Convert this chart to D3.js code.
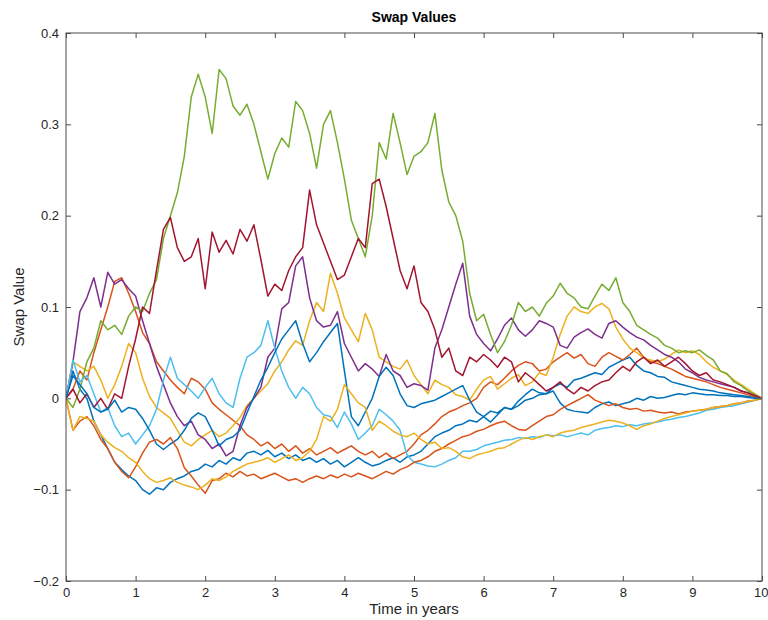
<!DOCTYPE html>
<html>
<head>
<meta charset="utf-8">
<script src="https://cdn.jsdelivr.net/npm/d3@7"></script>
<style>
  html, body { margin: 0; padding: 0; background: #fff; }
  svg { display: block; font-family: "Liberation Sans", Arial, Helvetica, sans-serif; }
</style>
</head>
<body>
<svg id="chart" width="768" height="620"></svg>
<script>
// Simulated swap value paths over a 10-year horizon, sampled every 0.1 year.
const years = d3.range(0, 101).map(i => i / 10);

const xTicks = [0, 1, 2, 3, 4, 5, 6, 7, 8, 9, 10];
const yTicks = [-0.2, -0.1, 0, 0.1, 0.2, 0.3, 0.4];

const pathBlue1 = [0,0.03,0.01,0,-0.025,-0.04,-0.055,-0.07,-0.078,-0.085,
  -0.09,-0.1,-0.105,-0.098,-0.1,-0.092,-0.088,-0.085,-0.08,-0.078,
  -0.072,-0.075,-0.068,-0.072,-0.065,-0.068,-0.06,-0.058,-0.062,-0.057,
  -0.064,-0.06,-0.066,-0.062,-0.068,-0.065,-0.07,-0.066,-0.072,-0.068,
  -0.075,-0.07,-0.065,-0.07,-0.074,-0.072,-0.068,-0.065,-0.07,-0.064,
  -0.062,-0.058,-0.05,-0.042,-0.038,-0.035,-0.03,-0.028,-0.024,-0.026,
  -0.02,-0.014,-0.016,-0.01,-0.012,-0.003,0.004,0.01,0.006,0.005,
  0.012,0.016,0.012,0.02,0.022,0.025,0.028,0.026,0.034,0.038,
  0.042,0.045,0.036,0.03,0.028,0.024,0.023,0.018,0.016,0.014,
  0.012,0.01,0.009,0.008,0.006,0.005,0.004,0.003,0.002,0.001,0];

const pathOrange1 = [0,0.01,0.03,0.02,0.05,0.075,0.1,0.128,0.132,0.115,
  0.095,0.072,0.06,0.04,0.03,0.02,0.012,0.005,0.022,0.018,
  0.01,-0.005,-0.012,-0.018,-0.024,-0.03,-0.04,-0.045,-0.052,-0.048,
  -0.055,-0.05,-0.058,-0.052,-0.06,-0.055,-0.062,-0.058,-0.054,-0.06,
  -0.056,-0.052,-0.058,-0.062,-0.058,-0.065,-0.06,-0.066,-0.062,-0.058,
  -0.05,-0.04,-0.035,-0.028,-0.02,-0.015,-0.012,-0.008,-0.005,0,
  0.012,0.018,0.015,0.022,0.03,0.036,0.04,0.038,0.03,0.032,
  0.04,0.045,0.05,0.044,0.048,0.038,0.035,0.045,0.05,0.046,
  0.042,0.048,0.055,0.045,0.04,0.038,0.035,0.032,0.028,0.024,
  0.022,0.02,0.018,0.015,0.012,0.01,0.008,0.006,0.004,0.002,0];

const pathYellow1 = [0,0.04,0.035,0.03,0.035,0.02,0,0.015,0.035,0.06,
  0.05,0.022,0.002,-0.01,-0.016,-0.022,-0.035,-0.048,-0.052,-0.045,
  -0.04,-0.035,-0.042,-0.038,-0.03,-0.021,-0.008,0,0.008,0.016,
  0.03,0.04,0.053,0.063,0.058,0.085,0.105,0.095,0.137,0.115,
  0.088,0.075,0.062,0.093,0.075,0.045,0.04,0.035,0.032,0.042,
  0.025,0.015,0.005,0.02,0.015,0.012,0.004,0.002,-0.002,0.01,
  0.02,0.024,0.01,0.016,0.022,0.026,0.014,0.018,0.028,0.025,
  0.045,0.07,0.09,0.1,0.095,0.093,0.1,0.104,0.098,0.078,
  0.065,0.055,0.05,0.044,0.042,0.04,0.043,0.048,0.053,0.05,
  0.052,0.048,0.04,0.034,0.03,0.026,0.02,0.015,0.01,0.005,0];

const pathPurple = [0,0.04,0.095,0.11,0.132,0.1,0.138,0.125,0.13,0.12,
  0.112,0.085,0.06,0.035,0.015,-0.005,-0.02,-0.03,-0.025,-0.04,
  -0.045,-0.055,-0.05,-0.063,-0.058,-0.03,-0.01,0,0.012,0.045,
  0.055,0.098,0.105,0.145,0.155,0.11,0.085,0.078,0.08,0.095,
  0.06,0.045,0.03,0.038,0.032,0.024,0.048,0.03,0.025,0.012,
  0.016,0.014,0.009,0.055,0.075,0.1,0.125,0.148,0.09,0.07,
  0.06,0.052,0.065,0.08,0.088,0.075,0.068,0.075,0.085,0.082,
  0.078,0.058,0.055,0.067,0.072,0.076,0.07,0.066,0.082,0.085,
  0.078,0.072,0.067,0.064,0.058,0.053,0.048,0.045,0.04,0.032,
  0.028,0.023,0.02,0.018,0.016,0.014,0.012,0.008,0.006,0.003,0];

const pathGreen = [0,-0.01,0.01,0.04,0.055,0.085,0.075,0.08,0.07,0.09,
  0.1,0.095,0.115,0.13,0.175,0.2,0.225,0.265,0.33,0.355,
  0.33,0.29,0.36,0.35,0.32,0.31,0.322,0.3,0.27,0.24,
  0.268,0.285,0.275,0.325,0.315,0.29,0.252,0.3,0.315,0.28,
  0.24,0.195,0.175,0.155,0.2,0.28,0.262,0.312,0.28,0.245,
  0.265,0.27,0.28,0.312,0.25,0.215,0.2,0.172,0.115,0.085,
  0.092,0.07,0.05,0.062,0.08,0.105,0.095,0.1,0.09,0.104,
  0.112,0.126,0.115,0.11,0.1,0.098,0.112,0.125,0.118,0.132,
  0.105,0.095,0.08,0.075,0.07,0.066,0.058,0.055,0.05,0.052,
  0.05,0.053,0.047,0.042,0.03,0.027,0.018,0.014,0.008,0.004,0];

const pathLightBlue = [0,0.042,0.018,0.025,0.005,-0.015,-0.01,-0.03,-0.042,-0.038,
  -0.05,-0.04,-0.03,-0.012,0.02,0.045,0.022,0.015,0.008,0,
  0.012,0.022,0.005,-0.005,-0.01,0.022,0.045,0.05,0.058,0.085,
  0.055,0.03,0.012,0,0.012,0.005,-0.01,-0.018,-0.02,-0.032,
  -0.015,-0.028,-0.045,-0.038,-0.03,-0.012,-0.018,-0.025,-0.035,-0.062,
  -0.07,-0.072,-0.074,-0.075,-0.072,-0.068,-0.065,-0.058,-0.058,-0.056,
  -0.052,-0.05,-0.048,-0.046,-0.045,-0.043,-0.044,-0.042,-0.043,-0.04,
  -0.041,-0.04,-0.042,-0.04,-0.038,-0.04,-0.035,-0.033,-0.032,-0.03,
  -0.031,-0.029,-0.03,-0.028,-0.027,-0.026,-0.024,-0.023,-0.021,-0.02,
  -0.018,-0.016,-0.013,-0.012,-0.01,-0.009,-0.008,-0.006,-0.004,-0.002,0];

const pathDarkRed = [0,0.01,-0.005,0.005,-0.01,0,-0.012,0.005,0,0.035,
  0.065,0.1,0.093,0.14,0.185,0.198,0.165,0.15,0.155,0.175,
  0.12,0.182,0.16,0.173,0.158,0.185,0.172,0.19,0.152,0.112,
  0.125,0.118,0.14,0.155,0.165,0.228,0.19,0.17,0.15,0.13,
  0.135,0.155,0.175,0.165,0.235,0.24,0.21,0.175,0.14,0.12,
  0.145,0.105,0.095,0.075,0.045,0.055,0.03,0.025,0.045,0.04,
  0.048,0.042,0.034,0.045,0.04,0.018,0.028,0.022,0.015,0.008,
  0.012,0.018,0.01,0.005,0.012,0.008,0.014,0.018,0.02,0.028,
  0.035,0.03,0.04,0.045,0.038,0.042,0.035,0.04,0.045,0.038,
  0.03,0.025,0.028,0.02,0.018,0.015,0.012,0.008,0.006,0.003,0];

const pathBlue2 = [0,0.025,0.015,0.005,-0.01,-0.015,-0.012,-0.002,-0.015,-0.01,
  -0.012,-0.022,-0.035,-0.05,-0.056,-0.05,-0.045,-0.035,-0.022,-0.016,
  -0.02,-0.035,-0.052,-0.045,-0.042,-0.035,-0.016,0.002,0.02,0.034,
  0.05,0.065,0.075,0.085,0.06,0.04,0.05,0.062,0.072,0.082,
  0.03,-0.02,-0.03,-0.015,0,0.024,0.034,0.025,0.005,-0.008,
  -0.01,-0.006,-0.004,-0.002,0.002,0.006,0.01,0.014,-0.002,-0.015,
  -0.02,-0.026,-0.018,-0.01,-0.012,-0.008,-0.002,0,0.004,0.005,
  0.008,-0.005,-0.012,-0.014,-0.015,-0.016,-0.01,-0.006,-0.004,-0.008,
  -0.006,-0.004,0,-0.002,0.002,0,0.001,0.003,0.005,0.004,
  0.006,0.005,0.004,0.004,0.003,0.003,0.002,0.002,0.001,0,0];

const pathOrange2 = [0,-0.035,-0.025,-0.02,-0.03,-0.045,-0.055,-0.07,-0.08,-0.087,
  -0.075,-0.06,-0.048,-0.045,-0.05,-0.043,-0.055,-0.076,-0.085,-0.095,
  -0.104,-0.09,-0.088,-0.082,-0.086,-0.08,-0.085,-0.083,-0.088,-0.085,
  -0.082,-0.086,-0.09,-0.088,-0.092,-0.088,-0.085,-0.088,-0.084,-0.087,
  -0.083,-0.086,-0.082,-0.085,-0.088,-0.084,-0.08,-0.083,-0.078,-0.075,
  -0.07,-0.068,-0.064,-0.058,-0.055,-0.05,-0.046,-0.042,-0.04,-0.036,
  -0.034,-0.03,-0.027,-0.025,-0.03,-0.034,-0.035,-0.03,-0.025,-0.02,
  -0.018,-0.012,-0.008,-0.004,0,0.004,-0.002,-0.005,-0.008,-0.006,
  -0.01,-0.012,-0.011,-0.014,-0.013,-0.015,-0.016,-0.015,-0.017,-0.015,
  -0.014,-0.013,-0.012,-0.01,-0.009,-0.008,-0.006,-0.005,-0.003,-0.002,0];

const pathYellow2 = [0,-0.035,-0.02,-0.022,-0.025,-0.04,-0.048,-0.054,-0.058,-0.065,
  -0.07,-0.08,-0.088,-0.092,-0.09,-0.087,-0.092,-0.095,-0.097,-0.1,
  -0.095,-0.088,-0.09,-0.086,-0.08,-0.076,-0.072,-0.07,-0.068,-0.065,
  -0.07,-0.066,-0.062,-0.068,-0.065,-0.058,-0.045,-0.02,-0.025,-0.012,
  0.015,0.005,-0.005,-0.01,-0.035,-0.025,-0.03,-0.036,-0.04,-0.042,
  -0.038,-0.045,-0.05,-0.048,-0.055,-0.054,-0.058,-0.064,-0.066,-0.062,
  -0.06,-0.058,-0.055,-0.054,-0.05,-0.046,-0.043,-0.045,-0.042,-0.04,
  -0.042,-0.038,-0.036,-0.035,-0.032,-0.03,-0.028,-0.026,-0.024,-0.025,
  -0.027,-0.03,-0.034,-0.03,-0.028,-0.025,-0.022,-0.02,-0.018,-0.016,
  -0.014,-0.013,-0.012,-0.01,-0.009,-0.008,-0.006,-0.005,-0.003,-0.002,0];

// Plotting order and line colours (MATLAB default colour order).
const seriesValues = [pathBlue1, pathOrange1, pathYellow1, pathPurple, pathGreen,
  pathLightBlue, pathDarkRed, pathBlue2, pathOrange2, pathYellow2];
const seriesColors = ["#0072BD", "#D95319", "#EDB120", "#7E2F8E", "#77AC30",
  "#4DBEEE", "#A2142F", "#0072BD", "#D95319", "#EDB120"];

const svg = d3.select("#chart");
const plot = { left: 66, right: 762, top: 33, bottom: 581 };

const x = d3.scaleLinear().domain([0, 10]).range([plot.left, plot.right]);
const y = d3.scaleLinear().domain([-0.2, 0.4]).range([plot.bottom, plot.top]);

svg.append("defs").append("clipPath").attr("id", "plot-clip")
  .append("rect")
  .attr("x", plot.left).attr("y", plot.top)
  .attr("width", plot.right - plot.left).attr("height", plot.bottom - plot.top);

const line = d3.line()
  .x((d, i) => x(years[i]))
  .y(d => y(d));

svg.append("g").attr("clip-path", "url(#plot-clip)")
  .selectAll("path")
  .data(seriesValues)
  .join("path")
  .attr("d", d => line(d))
  .attr("fill", "none")
  .attr("stroke", (d, i) => seriesColors[i])
  .attr("stroke-width", 1.5)
  .attr("stroke-linejoin", "round");

// Axes: ticks point inward on all four sides, box drawn around the plot.
const axisColor = "#4a4a4a";
const tickLen = 5;
const tickFmt = d => (d === 0 ? "0" : d3.format(".1f")(d));

const bottomAxis = svg.append("g")
  .attr("transform", `translate(0,${plot.bottom})`)
  .call(d3.axisBottom(x).tickValues(xTicks).tickFormat(d3.format("d"))
    .tickSizeInner(-tickLen).tickSizeOuter(0).tickPadding(7));
const topAxis = svg.append("g")
  .attr("transform", `translate(0,${plot.top})`)
  .call(d3.axisTop(x).tickValues(xTicks).tickFormat("")
    .tickSizeInner(-tickLen).tickSizeOuter(0));
const leftAxis = svg.append("g")
  .attr("transform", `translate(${plot.left},0)`)
  .call(d3.axisLeft(y).tickValues(yTicks).tickFormat(d => tickFmt(+d.toFixed(1)))
    .tickSizeInner(-tickLen).tickSizeOuter(0).tickPadding(7));
const rightAxis = svg.append("g")
  .attr("transform", `translate(${plot.right},0)`)
  .call(d3.axisRight(y).tickValues(yTicks).tickFormat("")
    .tickSizeInner(-tickLen).tickSizeOuter(0));

[bottomAxis, topAxis, leftAxis, rightAxis].forEach(g => {
  g.select(".domain").remove();
  g.selectAll(".tick line").attr("stroke", axisColor);
  g.selectAll(".tick text")
    .attr("fill", "#262626")
    .style("font-size", "13px")
    .style("font-family", "\"Liberation Sans\", Arial, sans-serif");
});

// Keep the last x label inside the page edge.
bottomAxis.selectAll(".tick text")
  .filter(d => d === 10)
  .attr("text-anchor", "end")
  .attr("dx", "6px");

svg.append("rect")
  .attr("x", plot.left).attr("y", plot.top)
  .attr("width", plot.right - plot.left).attr("height", plot.bottom - plot.top)
  .attr("fill", "none")
  .attr("stroke", axisColor)
  .attr("stroke-width", 1);

// Title and axis labels.
svg.append("text")
  .attr("x", (plot.left + plot.right) / 2)
  .attr("y", 22)
  .attr("text-anchor", "middle")
  .attr("fill", "#000")
  .style("font-size", "14px")
  .style("font-weight", "bold")
  .text("Swap Values");

svg.append("text")
  .attr("x", (plot.left + plot.right) / 2)
  .attr("y", 614)
  .attr("text-anchor", "middle")
  .attr("fill", "#262626")
  .style("font-size", "15px")
  .text("Time in years");

svg.append("text")
  .attr("transform", `translate(24,${(plot.top + plot.bottom) / 2}) rotate(-90)`)
  .attr("text-anchor", "middle")
  .attr("fill", "#262626")
  .style("font-size", "15px")
  .text("Swap Value");
</script>
</body>
</html>
